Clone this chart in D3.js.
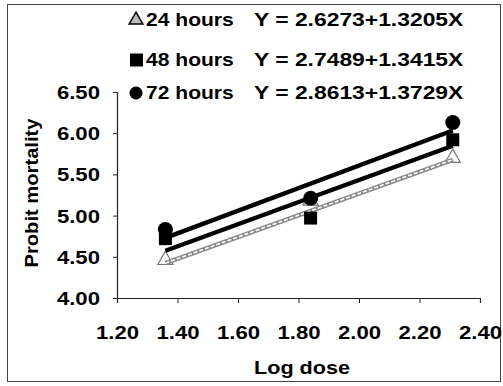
<!DOCTYPE html>
<html><head><meta charset="utf-8">
<script src="https://cdn.jsdelivr.net/npm/d3@7"></script>
<style>
html,body{margin:0;padding:0;background:#fff;}
svg text{font-family:"Liberation Sans",Arial,sans-serif;font-weight:bold;fill:#000;}
</style></head>
<body>
<svg id="c" width="503" height="386"></svg>
<script>
const doses = [1.36, 1.84, 2.31];
const seriesNames = ["24 hours", "48 hours", "72 hours"];
const seriesValues = [
  [4.46, 5.18, 5.70],
  [4.72, 4.97, 5.92],
  [4.83, 5.21, 6.13]
];
const intercepts = [2.6273, 2.7489, 2.8613];
const slopes = [1.3205, 1.3415, 1.3729];
const equations = ["Y = 2.6273+1.3205X", "Y = 2.7489+1.3415X", "Y = 2.8613+1.3729X"];
const xTicks = [1.20, 1.40, 1.60, 1.80, 2.00, 2.20, 2.40];
const yTicks = [4.00, 4.50, 5.00, 5.50, 6.00, 6.50];

const svg = d3.select("#c");
const STRETCH = 1.23;
function stretch(sel, f) {
  sel.each(function(){ const w = this.getComputedTextLength(); d3.select(this).attr("textLength", w*(f||STRETCH)).attr("lengthAdjust","spacingAndGlyphs"); });
}

// outer border
svg.append("rect").attr("x",7.5).attr("y",4.5).attr("width",493).attr("height",377)
  .attr("fill","none").attr("stroke","#444").attr("stroke-width",1);

const x = d3.scaleLinear().domain([1.2, 2.4]).range([117, 480]);
const y = d3.scaleLinear().domain([4.0, 6.5]).range([298, 92]);

// axes
const yAxis = svg.append("g").attr("transform","translate(117,0)")
  .call(d3.axisLeft(y).tickValues(yTicks).tickSize(4).tickFormat(d3.format(".2f")));
const xAxis = svg.append("g").attr("transform","translate(0,298)")
  .call(d3.axisBottom(x).tickValues(xTicks).tickSize(5).tickFormat(d3.format(".2f")));
[yAxis, xAxis].forEach(a => {
  a.select(".domain").attr("stroke","#222").attr("stroke-width",1.2);
  a.selectAll(".tick line").attr("stroke","#222");
  a.selectAll("text").attr("font-size",18).attr("font-weight","bold")
    .attr("font-family","Liberation Sans, Arial, sans-serif").attr("fill","#000");
});
yAxis.selectAll("text").attr("x",-17).attr("dy","0.36em");
xAxis.selectAll("text").attr("y",28).attr("dy","0.71em");
stretch(yAxis.selectAll("text"));
stretch(xAxis.selectAll("text"));

// axis titles
const xt = svg.append("text").attr("x",302).attr("y",374).attr("text-anchor","middle")
  .attr("font-size",18).text("Log dose");
stretch(xt, 1.2);
const yt = svg.append("text").attr("transform","translate(38,193) rotate(-90)")
  .attr("text-anchor","middle").attr("font-size",18).text("Probit mortality");
stretch(yt, 1.12);

// markers drawn under lines for 24h
const tri = d3.symbol().type(d3.symbolTriangle);
const g = svg.append("g");
// 24h triangles
g.selectAll("path.t").data(seriesValues[0]).join("path")
  .attr("d", tri.size(100)())
  .attr("transform",(d,i)=>`translate(${x(doses[i])},${y(d)})`)
  .attr("fill","#fff").attr("stroke","#777").attr("stroke-width",1.2);

// regression lines
const x0 = doses[0], x1 = doses[doses.length-1];
// 24h line: grey hatched
const l24 = [[x0, intercepts[0]+slopes[0]*x0],[x1, intercepts[0]+slopes[0]*x1]];
const line = d3.line().x(d=>x(d[0])).y(d=>y(d[1]));
g.append("path").attr("d",line(l24)).attr("stroke","#8a8a8a").attr("stroke-width",4.5).attr("fill","none");
g.append("path").attr("d",line(l24)).attr("stroke","#fff").attr("stroke-width",1.6)
  .attr("stroke-dasharray","4,2").attr("fill","none");

// 48h squares
g.selectAll("rect.s").data(seriesValues[1]).join("rect")
  .attr("x",(d,i)=>x(doses[i])-6.5).attr("y",d=>y(d)-6.5).attr("width",13).attr("height",13)
  .attr("fill","#000");
// 72h circles
g.selectAll("circle.c").data(seriesValues[2]).join("circle")
  .attr("cx",(d,i)=>x(doses[i])).attr("cy",d=>y(d)).attr("r",7.5).attr("fill","#000");

[1,2].forEach(k=>{
  const pts = [[x0, intercepts[k]+slopes[k]*x0],[x1, intercepts[k]+slopes[k]*x1]];
  g.append("path").attr("d",line(pts)).attr("stroke","#000").attr("stroke-width",4.5).attr("fill","none");
});

// legend
const rowY = [20, 60, 93];
const leg = svg.append("g");
seriesNames.forEach((nm,i)=>{
  const cy = rowY[i];
  if (i===0) {
    leg.append("path").attr("d", tri.size(80)()).attr("transform",`translate(136,${cy})`)
      .attr("fill","#bbb").attr("stroke","#000").attr("stroke-width",1.5);
  } else if (i===1) {
    leg.append("rect").attr("x",130).attr("y",cy-6.5).attr("width",13).attr("height",13).attr("fill","#000");
  } else {
    leg.append("circle").attr("cx",136).attr("cy",cy).attr("r",6.5).attr("fill","#000");
  }
  const t = leg.append("text").attr("x",146).attr("y",cy).attr("dy","0.36em").attr("font-size",18).text(nm);
  stretch(t, 1.17);
  const e = leg.append("text").attr("x",254).attr("y",cy).attr("dy","0.36em").attr("font-size",18).text(equations[i]);
  stretch(e, 1.27);
});
</script>
</body></html>
